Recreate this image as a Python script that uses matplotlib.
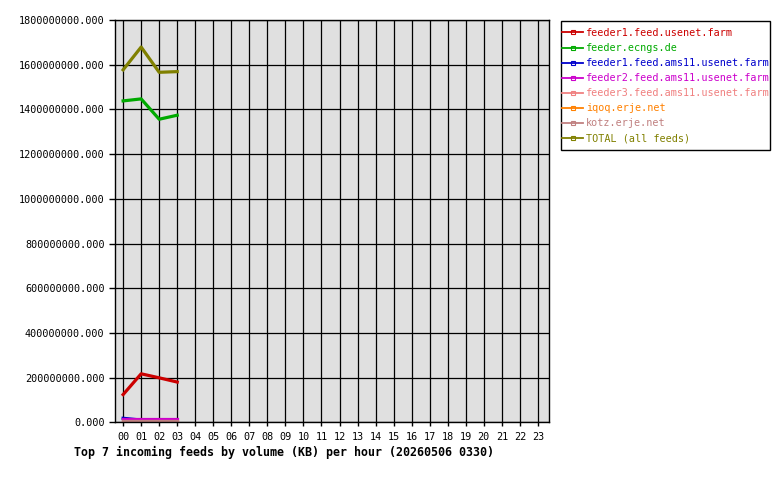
import matplotlib
matplotlib.use('Agg')
import matplotlib.pyplot as plt
from matplotlib.lines import Line2D
from matplotlib.patches import Rectangle
from matplotlib.ticker import StrMethodFormatter

# hours of the day, only the first four have data so far
hour_labels = ['%02d' % h for h in range(24)]
hours = [0, 1, 2, 3]

feeds = ['feeder1.feed.usenet.farm', 'feeder.ecngs.de',
         'feeder1.feed.ams11.usenet.farm', 'feeder2.feed.ams11.usenet.farm',
         'feeder3.feed.ams11.usenet.farm', 'iqoq.erje.net',
         'kotz.erje.net', 'TOTAL (all feeds)']
colors = ['#cc0000', '#00aa00', '#0000cc', '#cc00cc',
          '#f08080', '#ff8000', '#c08080', '#808000']

# KB per hour
feeder1_usenet = [124e6, 217e6, 199e6, 180e6]
ecngs = [1438e6, 1447e6, 1356e6, 1374e6]
feeder1_ams11 = [18e6, 10e6, 10e6, 10e6]
feeder2_ams11 = [13e6, 13e6, 13e6, 13e6]
feeder3_ams11 = [5e6, 5e6, 5e6, 5e6]
iqoq = [2e6, 2e6, 2e6, 2e6]
kotz = [5e6, 5e6, 5e6, 5e6]
total = [1577e6, 1679e6, 1566e6, 1569e6]

series = [feeder1_usenet, ecngs, feeder1_ams11, feeder2_ams11,
          feeder3_ams11, iqoq, kotz, total]

plt.rcParams['font.family'] = 'DejaVu Sans Mono'

fig = plt.figure(figsize=(7.8, 4.8), dpi=100)
ax = fig.add_axes([115 / 780, 57.7 / 480, (548.7 - 115) / 780, (422.3 - 20) / 480])
ax.set_facecolor('#e0e0e0')

for vals, c, name in zip(series, colors, feeds):
    ax.plot(hours, vals, color=c, lw=2.3, label=name, solid_joinstyle='round')

ax.set_xlim(-0.45, 23.6)
ax.set_ylim(0, 1.8e9)
ax.set_xticks(range(24))
ax.set_xticklabels(hour_labels)
ax.set_yticks([i * 200e6 for i in range(10)])
ax.yaxis.set_major_formatter(StrMethodFormatter('{x:.3f}'))
ax.grid(True, color='black', lw=0.9)
ax.set_axisbelow(True)
for s in ax.spines.values():
    s.set_color('black')
    s.set_linewidth(1)
ax.tick_params(axis='y', length=4, width=1, pad=3.5, labelsize=7.3)
ax.tick_params(axis='x', length=3, width=1, pad=4, labelsize=7.3)

# legend box drawn by hand, legend entries inside it
fig.patches.append(Rectangle((560.7 / 780, 1 - 150 / 480), (770 - 560.7) / 780,
                             (150 - 20.7) / 480, transform=fig.transFigure,
                             facecolor='white', edgecolor='black', lw=1))
handles = [Line2D([], [], color=c, lw=1.3, marker='s', markersize=2.5,
                  mfc='none', mec=c, mew=0.8) for c in colors]
leg = fig.legend(handles, feeds, loc='upper left',
                 bbox_to_anchor=(562 / 780, 1 - 28 / 480),
                 fontsize=7.3, frameon=False,
                 handlelength=2.1, handletextpad=0.3, labelspacing=0.5,
                 borderpad=0, borderaxespad=0)
for t, c in zip(leg.get_texts(), colors):
    t.set_color(c)

fig.text(74 / 780, 1 - 452 / 480,
         'Top 7 incoming feeds by volume (KB) per hour (20260506 0330)',
         ha='left', va='center', fontsize=8.4, fontweight='bold')

fig.savefig('out.png', dpi=100)
